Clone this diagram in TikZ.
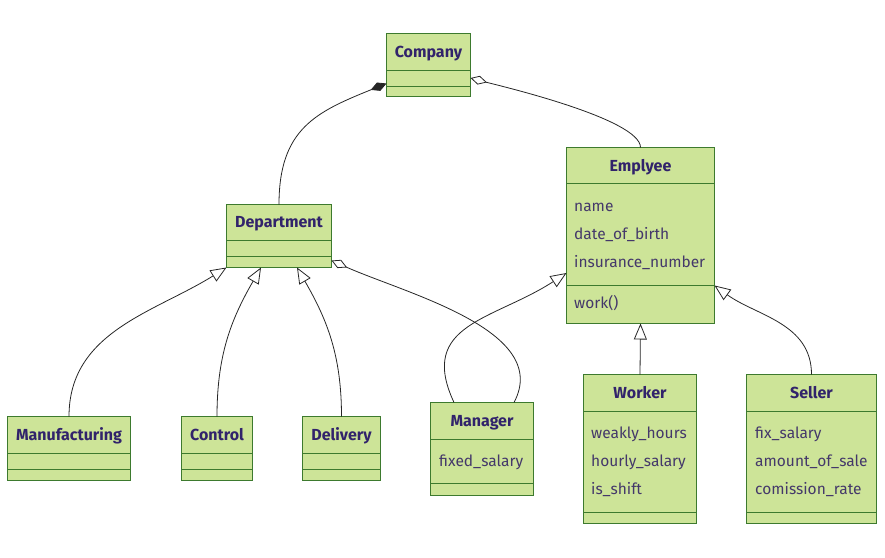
\documentclass[tikz,border=0pt]{standalone}
\usepackage{fontspec}
\setmainfont{Fira Sans}
\usetikzlibrary{arrows.meta}
\definecolor{classfill}{HTML}{CDE498}
\definecolor{classborder}{HTML}{3D7A2E}
\definecolor{classtext}{HTML}{31236B}
\definecolor{attrcolor}{HTML}{44386A}
\tikzset{
	classbox/.style={draw=classborder, fill=classfill, line width=1pt, inner sep=0pt, outer sep=0pt},
	classline/.style={draw=classborder, line width=0.9pt},
	classname/.style={font=\bfseries\fontsize{16}{18}\selectfont, text=classtext, inner sep=0pt, anchor=base},
	attrtext/.style={font=\fontsize{15.5}{18}\selectfont, text=attrcolor, inner sep=0pt, anchor=base west},
	relation/.style={draw=black!85, line width=0.8pt},
	extends/.style={relation, -{Triangle[open, length=16pt, width=13pt, fill=white]}},
	aggregates/.style={relation, -{Diamond[open, length=17pt, width=9pt, fill=white]}},
	composes/.style={relation, -{Diamond[length=17pt, width=9pt]}},
}
\begin{document}
\begin{tikzpicture}[x=1pt, y=-1pt]
	\useasboundingbox (0,0) rectangle (885,557);
	% Classes
	\node[classbox, minimum width=84, minimum height=63] (company) at (428.5,65) {};
	\node[classbox, minimum width=105, minimum height=63] (department) at (279,236) {};
	\node[classbox, minimum width=148, minimum height=176] (employee) at (640.5,235.5) {};
	\node[classbox, minimum width=103, minimum height=92.5] (manager) at (482,448.75) {};
	\node[classbox, minimum width=113, minimum height=149] (worker) at (640,449) {};
	\node[classbox, minimum width=130, minimum height=149] (seller) at (811.5,449) {};
	\foreach \name/\x/\w in {manufacturing/69/123, control/217/71, delivery/341.5/78}
		\node[classbox, minimum width=\w, minimum height=64] (\name) at (\x,448.5) {};
	% Compartments
	\draw[classline] (386.5,70) -- (470.5,70) (386.5,86.5) -- (470.5,86.5);
	\draw[classline] (226.5,240.5) -- (331.5,240.5) (226.5,256.5) -- (331.5,256.5);
	\draw[classline] (566.5,183.5) -- (714.5,183.5) (566.5,285) -- (714.5,285);
	\draw[classline] (430.5,439) -- (533.5,439) (430.5,483.5) -- (533.5,483.5);
	\draw[classline] (583.5,411) -- (696.5,411) (583.5,512) -- (696.5,512);
	\draw[classline] (746.5,411) -- (876.5,411) (746.5,512) -- (876.5,512);
	\draw[classline] (7.5,453) -- (130.5,453) (7.5,469) -- (130.5,469);
	\draw[classline] (181.5,453) -- (252.5,453) (181.5,469) -- (252.5,469);
	\draw[classline] (302.5,453) -- (380.5,453) (302.5,469) -- (380.5,469);
	% Names
	\node[classname] (company-name) at (428.5,57) {Company};
	\node[classname] (department-name) at (279,227) {Department};
	\node[classname] (employee-name) at (640.5,171) {Emplyee};
	\node[classname] (manager-name) at (482,426) {Manager};
	\node[classname] (worker-name) at (640,398) {Worker};
	\node[classname] (seller-name) at (811.5,398) {Seller};
	\node[classname] (manufacturing-name) at (69,440) {Manufacturing};
	\node[classname] (control-name) at (217,440) {Control};
	\node[classname] (delivery-name) at (341.5,440) {Delivery};
	% Members
	\foreach \attr [count=\i] in {name, date\_of\_birth, insurance\_number}
		\node[attrtext] (employee-attr\i) at (574, 183+28*\i) {\attr};
	\node[attrtext] (employee-op) at (574,308) {work()};
	\node[attrtext] (manager-attr) at (439,466) {fixed\_salary};
	\foreach \attr [count=\i] in {weakly\_hours, hourly\_salary, is\_shift}
		\node[attrtext] (worker-attr\i) at (591, 410+28*\i) {\attr};
	\foreach \attr [count=\i] in {fix\_salary, amount\_of\_sale, comission\_rate}
		\node[attrtext] (seller-attr\i) at (755, 410+28*\i) {\attr};
	% Relations
	\draw[composes] (department.north) to[out=90, in=202, looseness=1.2] ([yshift=13pt]company.south west);
	\draw[aggregates] (employee.north) to[out=90, in=-15, looseness=0.4] ([yshift=18.5pt]company.south east);
	\draw[extends] (manufacturing.north) to[out=90, in=212] (department.south west);
	\draw[extends] (control.north) to[out=90, in=240] ([xshift=-18pt]department.south);
	\draw[extends] (delivery.north) to[out=90, in=300] ([xshift=18pt]department.south);
	\draw[aggregates] ([xshift=32pt]manager.north) to[out=62, in=-24, looseness=0.9] ([yshift=7pt]department.south east);
	\draw[extends] ([xshift=-28pt]manager.north) to[out=115, in=213, looseness=1.3] ([yshift=50.5pt]employee.south west);
	\draw[extends] (worker.north) -- (employee.south);
	\draw[extends] (seller.north) to[out=90, in=324] ([yshift=38pt]employee.south east);
\end{tikzpicture}
\end{document}
